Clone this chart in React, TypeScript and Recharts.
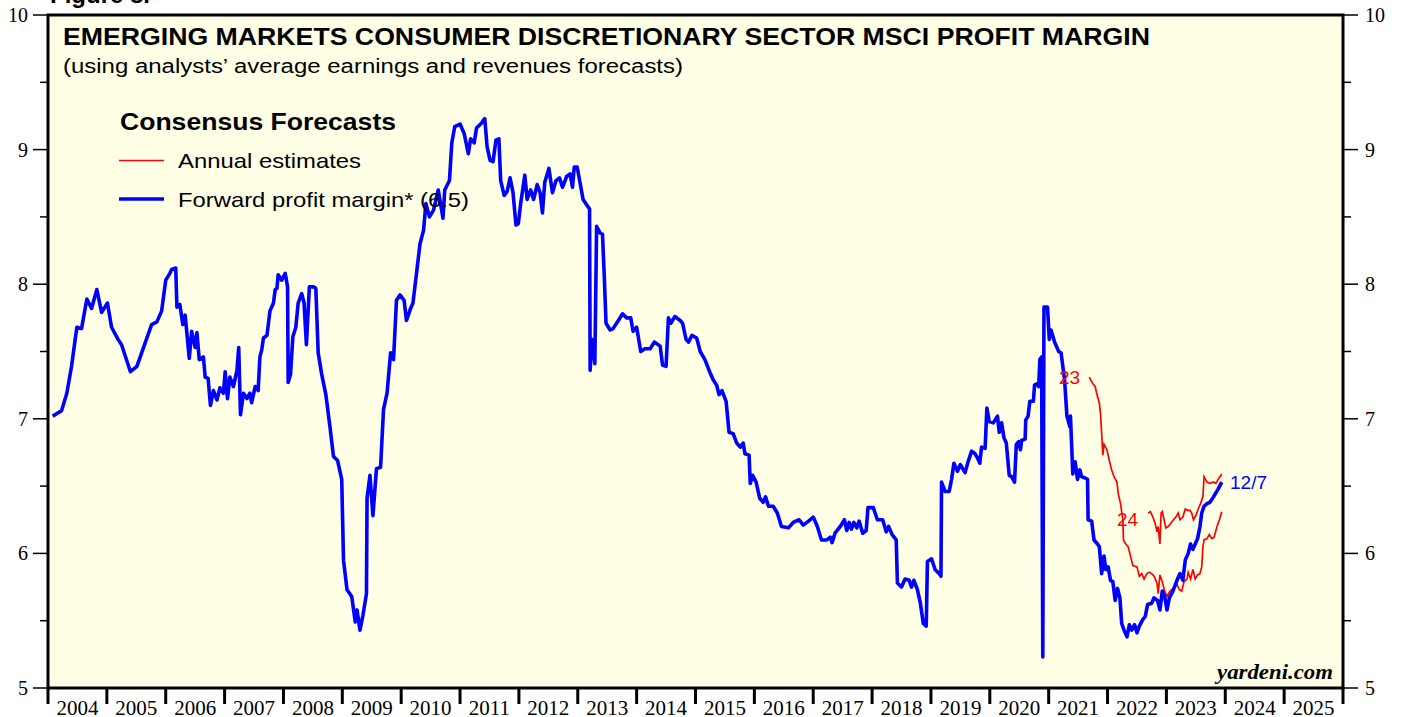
import { LineChart, Line, XAxis, YAxis, ReferenceArea } from "recharts";

// forward profit margin (weekly-ish)
const blueDates = [
  2004.08, 2004.23, 2004.32, 2004.4, 2004.49, 2004.57, 2004.66, 2004.74, 2004.83, 2004.91,
  2005.01, 2005.08, 2005.19, 2005.25, 2005.4, 2005.51, 2005.76, 2005.85, 2005.93, 2006.0,
  2006.07, 2006.1, 2006.17, 2006.19, 2006.24, 2006.29, 2006.33, 2006.4, 2006.44, 2006.5,
  2006.53, 2006.57, 2006.64, 2006.67, 2006.72, 2006.76, 2006.81, 2006.87, 2006.92, 2006.98,
  2007.01, 2007.05, 2007.09, 2007.15, 2007.21, 2007.24, 2007.27, 2007.32, 2007.38, 2007.43,
  2007.46, 2007.52, 2007.57, 2007.6, 2007.63, 2007.66, 2007.72, 2007.77, 2007.83, 2007.86,
  2007.89, 2007.91, 2007.97, 2008.03, 2008.07, 2008.08, 2008.12, 2008.16, 2008.21, 2008.25,
  2008.31, 2008.35, 2008.39, 2008.44, 2008.51, 2008.55, 2008.59, 2008.65, 2008.72, 2008.79,
  2008.85, 2008.92, 2008.99, 2009.02, 2009.08, 2009.16, 2009.22, 2009.25, 2009.3, 2009.35,
  2009.41, 2009.42, 2009.47, 2009.52, 2009.58, 2009.65, 2009.7, 2009.76, 2009.82, 2009.87,
  2009.92, 2009.98, 2010.05, 2010.09, 2010.16, 2010.2, 2010.26, 2010.32, 2010.38, 2010.42,
  2010.48, 2010.55, 2010.63, 2010.71, 2010.74, 2010.82, 2010.86, 2010.91, 2011.0, 2011.07,
  2011.14, 2011.18, 2011.24, 2011.28, 2011.37, 2011.42, 2011.46, 2011.51, 2011.56, 2011.61,
  2011.66, 2011.69, 2011.75, 2011.8, 2011.85, 2011.9, 2011.95, 2011.99, 2012.03, 2012.1,
  2012.14, 2012.2, 2012.25, 2012.31, 2012.36, 2012.4, 2012.44, 2012.51, 2012.57, 2012.63,
  2012.69, 2012.74, 2012.81, 2012.87, 2012.91, 2012.94, 2012.99, 2013.04, 2013.09, 2013.15,
  2013.2, 2013.21, 2013.24, 2013.28, 2013.29, 2013.32, 2013.38, 2013.42, 2013.45, 2013.48,
  2013.55, 2013.6, 2013.69, 2013.76, 2013.83, 2013.9, 2013.94, 2014.0, 2014.07, 2014.14,
  2014.23, 2014.3, 2014.4, 2014.44, 2014.5, 2014.54, 2014.58, 2014.65, 2014.74, 2014.78,
  2014.84, 2014.88, 2014.94, 2015.02, 2015.08, 2015.16, 2015.24, 2015.3, 2015.36, 2015.4,
  2015.45, 2015.52, 2015.57, 2015.64, 2015.7, 2015.76, 2015.81, 2015.84, 2015.91, 2015.93,
  2015.97, 2016.03, 2016.09, 2016.15, 2016.19, 2016.24, 2016.32, 2016.39, 2016.46, 2016.58,
  2016.66, 2016.76, 2016.83, 2016.92, 2017.0, 2017.07, 2017.14, 2017.23, 2017.29, 2017.32,
  2017.37, 2017.46, 2017.53, 2017.57, 2017.61, 2017.65, 2017.69, 2017.74, 2017.78, 2017.84,
  2017.9, 2017.93, 2018.02, 2018.09, 2018.18, 2018.24, 2018.28, 2018.34, 2018.41, 2018.43,
  2018.5, 2018.56, 2018.63, 2018.67, 2018.71, 2018.77, 2018.82, 2018.87, 2018.92, 2018.94,
  2019.01, 2019.07, 2019.14, 2019.17, 2019.18, 2019.24, 2019.31, 2019.35, 2019.39, 2019.45,
  2019.5, 2019.58, 2019.63, 2019.69, 2019.75, 2019.79, 2019.83, 2019.86, 2019.92, 2019.95,
  2019.99, 2020.06, 2020.13, 2020.16, 2020.2, 2020.24, 2020.28, 2020.33, 2020.37, 2020.42,
  2020.45, 2020.49, 2020.52, 2020.54, 2020.6, 2020.61, 2020.65, 2020.68, 2020.74, 2020.76,
  2020.8, 2020.83, 2020.85, 2020.88, 2020.9, 2020.92, 2020.98, 2021.01, 2021.04, 2021.1,
  2021.17, 2021.21, 2021.27, 2021.31, 2021.36, 2021.37, 2021.41, 2021.45, 2021.49, 2021.53,
  2021.56, 2021.62, 2021.66, 2021.67, 2021.73, 2021.77, 2021.83, 2021.86, 2021.9, 2021.94,
  2021.97, 2022.01, 2022.05, 2022.09, 2022.13, 2022.17, 2022.21, 2022.24, 2022.28, 2022.33,
  2022.37, 2022.41, 2022.46, 2022.5, 2022.54, 2022.6, 2022.64, 2022.68, 2022.75, 2022.79,
  2022.85, 2022.89, 2022.93, 2022.97, 2023.01, 2023.05, 2023.11, 2023.18, 2023.23, 2023.28,
  2023.32, 2023.37, 2023.41, 2023.45, 2023.49, 2023.53, 2023.57, 2023.6, 2023.64, 2023.69,
  2023.74, 2023.8, 2023.84, 2023.88, 2023.94,
];
const blueValues = [
  7.02, 7.06, 7.19, 7.39, 7.68, 7.67, 7.89, 7.82, 7.96, 7.79,
  7.86, 7.68, 7.59, 7.55, 7.35, 7.39, 7.7, 7.72, 7.8, 8.03,
  8.08, 8.11, 8.12, 7.83, 7.85, 7.7, 7.77, 7.45, 7.65, 7.53,
  7.64, 7.44, 7.46, 7.31, 7.3, 7.1, 7.21, 7.14, 7.23, 7.19,
  7.35, 7.15, 7.31, 7.24, 7.36, 7.53, 7.03, 7.19, 7.15, 7.19,
  7.12, 7.24, 7.21, 7.46, 7.51, 7.6, 7.62, 7.8, 7.86, 7.96,
  7.97, 8.07, 8.03, 8.08, 7.98, 7.27, 7.33, 7.61, 7.68, 7.86,
  7.93, 7.86, 7.55, 7.98, 7.98, 7.97, 7.49, 7.33, 7.18, 6.94,
  6.72, 6.69, 6.55, 5.95, 5.73, 5.68, 5.49, 5.58, 5.43, 5.54,
  5.7, 6.41, 6.58, 6.28, 6.63, 6.64, 7.07, 7.19, 7.49, 7.44,
  7.88, 7.92, 7.88, 7.73, 7.82, 7.86, 8.08, 8.3, 8.4, 8.6,
  8.5, 8.55, 8.7, 8.49, 8.7, 8.77, 9.05, 9.17, 9.19, 9.12,
  8.97, 9.08, 9.05, 9.16, 9.2, 9.23, 9.02, 8.92, 8.91, 9.07,
  9.08, 8.77, 8.66, 8.69, 8.79, 8.68, 8.44, 8.45, 8.6, 8.81,
  8.63, 8.7, 8.63, 8.74, 8.68, 8.53, 8.76, 8.86, 8.68, 8.77,
  8.79, 8.72, 8.8, 8.82, 8.72, 8.87, 8.87, 8.75, 8.63, 8.59,
  8.56, 7.36, 7.59, 7.46, 7.41, 8.43, 8.38, 8.37, 8.06, 7.71,
  7.66, 7.67, 7.73, 7.78, 7.75, 7.75, 7.65, 7.68, 7.5, 7.52,
  7.52, 7.57, 7.54, 7.4, 7.39, 7.75, 7.71, 7.76, 7.73, 7.71,
  7.59, 7.57, 7.62, 7.6, 7.5, 7.44, 7.35, 7.29, 7.25, 7.18,
  7.21, 7.13, 6.9, 6.89, 6.82, 6.79, 6.82, 6.74, 6.73, 6.52,
  6.58, 6.53, 6.41, 6.38, 6.42, 6.35, 6.35, 6.3, 6.2, 6.19,
  6.23, 6.25, 6.21, 6.24, 6.27, 6.2, 6.1, 6.1, 6.12, 6.08,
  6.15, 6.2, 6.25, 6.17, 6.23, 6.18, 6.23, 6.19, 6.24, 6.15,
  6.17, 6.34, 6.34, 6.25, 6.25, 6.16, 6.2, 6.14, 6.1, 5.78,
  5.75, 5.81, 5.8, 5.75, 5.8, 5.73, 5.63, 5.48, 5.46, 5.94,
  5.96, 5.88, 5.85, 5.83, 6.53, 6.46, 6.46, 6.55, 6.67, 6.61,
  6.66, 6.6, 6.68, 6.76, 6.74, 6.71, 6.67, 6.79, 6.78, 7.08,
  6.98, 6.97, 7.02, 6.9, 6.97, 6.86, 6.82, 6.58, 6.57, 6.53,
  6.81, 6.83, 6.77, 6.84, 6.85, 6.99, 7.02, 7.13, 7.13, 7.25,
  7.26, 7.24, 7.44, 7.46, 5.23, 7.83, 7.83, 7.59, 7.66, 7.57,
  7.5, 7.49, 7.29, 7.02, 6.94, 7.02, 6.59, 6.68, 6.55, 6.62,
  6.57, 6.56, 6.55, 6.25, 6.24, 6.1, 6.07, 6.05, 5.85, 5.98,
  5.88, 5.9, 5.8, 5.79, 5.65, 5.74, 5.67, 5.48, 5.43, 5.38,
  5.47, 5.43, 5.47, 5.41, 5.46, 5.51, 5.53, 5.62, 5.63, 5.67,
  5.65, 5.58, 5.72, 5.68, 5.58, 5.67, 5.72, 5.8, 5.85, 5.8,
  5.95, 6.0, 6.07, 6.03, 6.07, 6.11, 6.2, 6.3, 6.35, 6.37,
  6.38, 6.42, 6.45, 6.48, 6.53,
];

// annual estimates, 2023
const est23Dates = [
  2021.69, 2021.75, 2021.79, 2021.82, 2021.86, 2021.88, 2021.9, 2021.92, 2021.94, 2021.99,
  2022.03, 2022.07, 2022.11, 2022.16, 2022.18, 2022.22, 2022.26, 2022.27, 2022.31, 2022.35,
  2022.39, 2022.43, 2022.5, 2022.54, 2022.58, 2022.62, 2022.67, 2022.71, 2022.75, 2022.79,
  2022.84, 2022.86, 2022.89, 2022.93, 2022.97, 2023.01, 2023.06, 2023.12, 2023.18, 2023.22,
  2023.26, 2023.3, 2023.35, 2023.37, 2023.41, 2023.45, 2023.49, 2023.53, 2023.57, 2023.6,
  2023.62, 2023.64, 2023.69, 2023.73, 2023.77, 2023.81, 2023.86, 2023.9, 2023.94,
];
const est23Values = [
  7.31, 7.26, 7.24, 7.18, 7.12, 7.04, 6.89, 6.73, 6.81, 6.77,
  6.69, 6.62, 6.57, 6.53, 6.45, 6.37, 6.25, 6.1, 6.07, 6.05,
  5.98, 5.91, 5.9, 5.83, 5.85, 5.81, 5.85, 5.86, 5.85, 5.83,
  5.78, 5.7, 5.84, 5.79, 5.72, 5.68, 5.72, 5.74, 5.77, 5.73,
  5.72, 5.79, 5.81, 5.86, 5.81, 5.88, 5.81, 5.84, 5.85, 5.9,
  6.05, 6.1, 6.11, 6.14, 6.11, 6.12, 6.2, 6.25, 6.31,
];

// annual estimates, 2024
const est24Dates = [
  2022.69, 2022.73, 2022.77, 2022.81, 2022.84, 2022.86, 2022.89, 2022.91, 2022.93, 2022.96,
  2022.99, 2023.03, 2023.07, 2023.12, 2023.16, 2023.2, 2023.23, 2023.28, 2023.32, 2023.36,
  2023.4, 2023.43, 2023.46, 2023.5, 2023.54, 2023.58, 2023.62, 2023.64, 2023.69, 2023.74,
  2023.8, 2023.84, 2023.88, 2023.94,
];
const est24Values = [
  6.3, 6.31, 6.27, 6.22, 6.16, 6.2, 6.07, 6.3, 6.31, 6.25,
  6.19, 6.2, 6.22, 6.25, 6.27, 6.3, 6.25, 6.27, 6.33, 6.32,
  6.32, 6.3, 6.25, 6.28, 6.33, 6.37, 6.42, 6.57, 6.53, 6.52,
  6.53, 6.52, 6.55, 6.59,
];

const yearLabels = [
  "2004", "2005", "2006", "2007", "2008", "2009", "2010", "2011", "2012", "2013", "2014",
  "2015", "2016", "2017", "2018", "2019", "2020", "2021", "2022", "2023", "2024", "2025",
];
const yTicks = [5, 5.5, 6, 6.5, 7, 7.5, 8, 8.5, 9, 9.5, 10];

const toPoints = (dates: number[], values: number[]) =>
  dates.map((t, i) => ({ t, v: values[i] }));

const W = 1403;
const H = 717;
const PLOT_LEFT = 48;
const PLOT_RIGHT = 1343;
const PLOT_BOTTOM = 688;
const HALF_YEAR = (PLOT_RIGHT - PLOT_LEFT) / yearLabels.length / 2;
const yearEdges = [...yearLabels.map(Number), Number(yearLabels[yearLabels.length - 1]) + 1];

const SANS = "'Liberation Sans', Arial, sans-serif";
const SERIF = "'Liberation Serif', 'Times New Roman', serif";

const YearTick = (props: any) => {
  const { x, payload } = props;
  const label = yearLabels.find((y) => Number(y) === payload.value);
  return (
    <g>
      <line x1={x} x2={x} y1={PLOT_BOTTOM + 1} y2={PLOT_BOTTOM + 16} stroke="#000" strokeWidth={3} />
      {label && (
        <text x={x + HALF_YEAR} y={715} textAnchor="middle" fontFamily={SERIF} fontSize={21} fill="#000">
          {label}
        </text>
      )}
    </g>
  );
};

const LeftTick = (props: any) => {
  const { y, payload } = props;
  const major = Number.isInteger(payload.value);
  return (
    <g>
      <line x1={PLOT_LEFT - (major ? 15 : 8)} x2={PLOT_LEFT} y1={y} y2={y} stroke="#000" strokeWidth={1.5} />
      {major && (
        <text x={PLOT_LEFT - 20} y={y} dy="0.35em" textAnchor="end" fontFamily={SERIF} fontSize={20} fill="#000">
          {payload.value}
        </text>
      )}
    </g>
  );
};

const RightTick = (props: any) => {
  const { y, payload } = props;
  const major = Number.isInteger(payload.value);
  return (
    <g>
      <line x1={PLOT_RIGHT} x2={PLOT_RIGHT + (major ? 15 : 8)} y1={y} y2={y} stroke="#000" strokeWidth={1.5} />
      {major && (
        <text x={PLOT_RIGHT + 22} y={y} dy="0.35em" textAnchor="start" fontFamily={SERIF} fontSize={20} fill="#000">
          {payload.value}
        </text>
      )}
    </g>
  );
};

export default function App() {
  return (
    <div style={{ position: "absolute", left: 0, top: 0, width: W, height: H, background: "#fff" }}>
      <LineChart width={W} height={H} margin={{ top: 15, right: 0, bottom: 0, left: 0 }}>
        <ReferenceArea
          yAxisId="left"
          x1={2004}
          x2={2026}
          y1={5}
          y2={10}
          fill="#FFFFE6"
          fillOpacity={1}
          stroke="#000"
          strokeWidth={3}
        />
        <XAxis
          type="number"
          dataKey="t"
          domain={[2004, 2026]}
          ticks={yearEdges}
          tick={YearTick}
          tickLine={false}
          axisLine={false}
          height={29}
          allowDataOverflow
        />
        <YAxis
          yAxisId="left"
          domain={[5, 10]}
          ticks={yTicks}
          tick={LeftTick}
          tickLine={false}
          axisLine={false}
          width={48}
          allowDataOverflow
        />
        <YAxis
          yAxisId="right"
          orientation="right"
          domain={[5, 10]}
          ticks={yTicks}
          tick={RightTick}
          tickLine={false}
          axisLine={false}
          width={60}
          allowDataOverflow
        />
        <Line
          yAxisId="left"
          data={toPoints(est23Dates, est23Values)}
          dataKey="v"
          type="linear"
          stroke="#FF0000"
          strokeWidth={1.7}
          dot={false}
          isAnimationActive={false}
        />
        <Line
          yAxisId="left"
          data={toPoints(est24Dates, est24Values)}
          dataKey="v"
          type="linear"
          stroke="#FF0000"
          strokeWidth={1.7}
          dot={false}
          isAnimationActive={false}
        />
        <Line
          yAxisId="left"
          data={toPoints(blueDates, blueValues)}
          dataKey="v"
          type="linear"
          stroke="#0000FF"
          strokeWidth={3.6}
          strokeLinejoin="round"
          dot={false}
          isAnimationActive={false}
        />
      </LineChart>

      <svg width={W} height={H} style={{ position: "absolute", left: 0, top: 0, pointerEvents: "none" }}>
        <text x={50} y={3} fontFamily={SANS} fontWeight="bold" fontSize={24} fill="#000">
          Figure 8.
        </text>
        <text x={63} y={45} fontFamily={SANS} fontWeight="bold" fontSize={24} textLength={1087} lengthAdjust="spacingAndGlyphs" fill="#000">
          EMERGING MARKETS CONSUMER DISCRETIONARY SECTOR MSCI PROFIT MARGIN
        </text>
        <text x={63} y={73} fontFamily={SANS} fontSize={20} textLength={620} lengthAdjust="spacingAndGlyphs" fill="#000">
          (using analysts’ average earnings and revenues forecasts)
        </text>
        <text x={120} y={130} fontFamily={SANS} fontWeight="bold" fontSize={23} textLength={276} lengthAdjust="spacingAndGlyphs" fill="#000">
          Consensus Forecasts
        </text>
        <line x1={119} x2={164} y1={160.5} y2={160.5} stroke="#FF0000" strokeWidth={1.7} />
        <text x={178} y={168} fontFamily={SANS} fontSize={21} textLength={183} lengthAdjust="spacingAndGlyphs" fill="#000">
          Annual estimates
        </text>
        <line x1={119} x2={164} y1={199} y2={199} stroke="#0000FF" strokeWidth={3.6} />
        <text x={178} y={207} fontFamily={SANS} fontSize={21} textLength={291} lengthAdjust="spacingAndGlyphs" fill="#000">
          Forward profit margin* (6.5)
        </text>
        <text x={1059} y={384} fontFamily={SANS} fontSize={19} fill="#FF0000">
          23
        </text>
        <text x={1117} y={526} fontFamily={SANS} fontSize={19} fill="#FF0000">
          24
        </text>
        <text x={1230} y={489} fontFamily={SANS} fontSize={19} fill="#0000FF">
          12/7
        </text>
        <text x={1333} y={679} textAnchor="end" fontFamily={SERIF} fontWeight="bold" fontStyle="italic" fontSize={22} textLength={116} lengthAdjust="spacingAndGlyphs" fill="#000">
          yardeni.com
        </text>
      </svg>
    </div>
  );
}
